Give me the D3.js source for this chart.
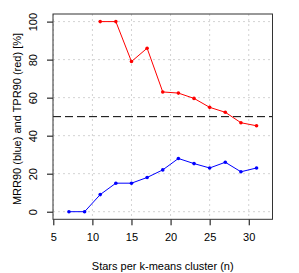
<!DOCTYPE html>
<html><head><meta charset="utf-8">
<script src="https://cdn.jsdelivr.net/npm/d3@7"></script>
<style>body{margin:0;background:#fff}svg{display:block}text{font-family:"Liberation Sans",Arial,sans-serif}</style>
</head><body><svg id="c" width="299" height="273"></svg>
<script>
const tprX = [11,13,15,17,19,21,23,25,27,29,31];
const tprVals = [100,100,79,86,63,62.4,59.6,54.9,52.3,46.8,45.2];
const mrrX = [7,9,11,13,15,17,19,21,23,25,27,29,31];
const mrrVals = [0,0,9,15,15,18,22,28,25.3,23,26,21,23];
const xTicks = [5,10,15,20,25,30];
const yTicks = [0,20,40,60,80,100];
const refLine = 50;

const svg = d3.select("#c");
const L=53, R=272.5, T=14, B=219.3;
const x = d3.scaleLinear().domain([4.96,33.04]).range([L,R]);
const y = d3.scaleLinear().domain([-4,104]).range([B,T]);

// grid
const g = svg.append("g");
g.selectAll(".gx").data(xTicks).enter().append("line")
 .attr("x1",d=>x(d)).attr("x2",d=>x(d)).attr("y1",T).attr("y2",B)
 .attr("stroke","#d3d3d3").attr("stroke-dasharray","2,3");
g.selectAll(".gy").data(yTicks).enter().append("line")
 .attr("x1",L).attr("x2",R).attr("y1",d=>y(d)).attr("y2",d=>y(d))
 .attr("stroke","#d3d3d3").attr("stroke-dasharray","2,3");

// reference line
svg.append("line").attr("x1",L).attr("x2",R).attr("y1",y(refLine)).attr("y2",y(refLine))
 .attr("stroke","#000").attr("stroke-dasharray","8,4").attr("stroke-width",1);

// axes
const xa = svg.append("g").attr("transform",`translate(0,${B})`)
 .call(d3.axisBottom(x).tickValues(xTicks).tickSize(6).tickPadding(8));
const ya = svg.append("g").attr("transform",`translate(${L},0)`)
 .call(d3.axisLeft(y).tickValues(yTicks).tickSize(6).tickPadding(4));
[xa,ya].forEach(a=>{a.select(".domain").remove();a.selectAll("line").attr("stroke","#000");a.selectAll("text").attr("font-size",11).attr("font-family","Liberation Sans, Arial, sans-serif").attr("fill","#000");});
ya.selectAll(".tick").each(function(d){
  const t=d3.select(this).select("text");
  t.attr("transform","translate(-20,0) rotate(-90)").attr("x",0).attr("y",0).attr("dy","0.35em").attr("text-anchor","middle");
});

// box
svg.append("rect").attr("x",L).attr("y",T).attr("width",R-L).attr("height",B-T)
 .attr("fill","none").attr("stroke","#333").attr("stroke-width",1);

const line = d3.line().x(d=>x(d[0])).y(d=>y(d[1]));
function series(xs,vs,col){
  const d = xs.map((v,i)=>[v,vs[i]]);
  svg.append("path").datum(d).attr("d",line).attr("fill","none").attr("stroke",col).attr("stroke-width",1);
  svg.selectAll(null).data(d).enter().append("circle")
   .attr("cx",p=>x(p[0])).attr("cy",p=>y(p[1])).attr("r",1.8).attr("fill",col);
}
series(tprX,tprVals,"#ff0000");
series(mrrX,mrrVals,"#0000ff");

svg.append("text").attr("x",(L+R)/2).attr("y",270).attr("text-anchor","middle")
 .attr("font-size",11).text("Stars per k-means cluster (n)");
svg.append("text").attr("transform",`translate(17,119) rotate(-90)`).attr("dy","0.35em")
 .attr("text-anchor","middle").attr("font-size",11).text("MRR90 (blue) and TPR90 (red) [%]");
</script></body></html>
